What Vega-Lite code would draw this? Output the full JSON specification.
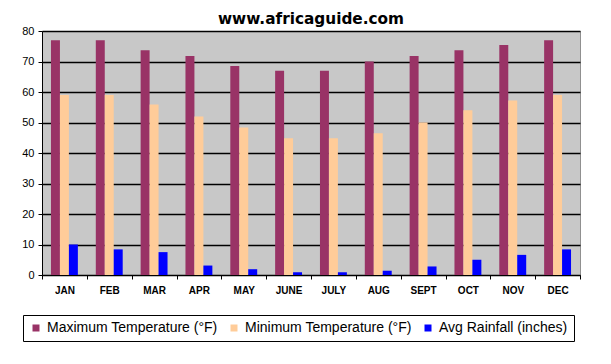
{
  "$schema": "https://vega.github.io/schema/vega-lite/v6.json",
  "width": 538,
  "height": 244,
  "autosize": {"type": "none"},
  "padding": {"left": 42, "top": 31, "right": 31, "bottom": 89},
  "background": "white",
  "title": {
    "text": "www.africaguide.com",
    "font": "DejaVu Sans",
    "fontSize": 15.3,
    "fontWeight": "bold",
    "color": "black",
    "anchor": "middle",
    "offset": -2
  },
  "data": {
    "values": [
      {"month": "JAN", "series": "Maximum Temperature (°F)", "value": 77},
      {"month": "FEB", "series": "Maximum Temperature (°F)", "value": 77},
      {"month": "MAR", "series": "Maximum Temperature (°F)", "value": 73.7},
      {"month": "APR", "series": "Maximum Temperature (°F)", "value": 71.8},
      {"month": "MAY", "series": "Maximum Temperature (°F)", "value": 68.5},
      {"month": "JUNE", "series": "Maximum Temperature (°F)", "value": 67},
      {"month": "JULY", "series": "Maximum Temperature (°F)", "value": 67},
      {"month": "AUG", "series": "Maximum Temperature (°F)", "value": 70},
      {"month": "SEPT", "series": "Maximum Temperature (°F)", "value": 71.8},
      {"month": "OCT", "series": "Maximum Temperature (°F)", "value": 73.7},
      {"month": "NOV", "series": "Maximum Temperature (°F)", "value": 75.4},
      {"month": "DEC", "series": "Maximum Temperature (°F)", "value": 77},
      {"month": "JAN", "series": "Minimum Temperature (°F)", "value": 59},
      {"month": "FEB", "series": "Minimum Temperature (°F)", "value": 59},
      {"month": "MAR", "series": "Minimum Temperature (°F)", "value": 55.9},
      {"month": "APR", "series": "Minimum Temperature (°F)", "value": 52},
      {"month": "MAY", "series": "Minimum Temperature (°F)", "value": 48.4},
      {"month": "JUNE", "series": "Minimum Temperature (°F)", "value": 44.8},
      {"month": "JULY", "series": "Minimum Temperature (°F)", "value": 44.8},
      {"month": "AUG", "series": "Minimum Temperature (°F)", "value": 46.5},
      {"month": "SEPT", "series": "Minimum Temperature (°F)", "value": 50},
      {"month": "OCT", "series": "Minimum Temperature (°F)", "value": 54},
      {"month": "NOV", "series": "Minimum Temperature (°F)", "value": 57.2},
      {"month": "DEC", "series": "Minimum Temperature (°F)", "value": 59},
      {"month": "JAN", "series": "Avg Rainfall (inches)", "value": 10},
      {"month": "FEB", "series": "Avg Rainfall (inches)", "value": 8.4},
      {"month": "MAR", "series": "Avg Rainfall (inches)", "value": 7.5},
      {"month": "APR", "series": "Avg Rainfall (inches)", "value": 3.1},
      {"month": "MAY", "series": "Avg Rainfall (inches)", "value": 1.9},
      {"month": "JUNE", "series": "Avg Rainfall (inches)", "value": 0.9},
      {"month": "JULY", "series": "Avg Rainfall (inches)", "value": 0.9},
      {"month": "AUG", "series": "Avg Rainfall (inches)", "value": 1.4},
      {"month": "SEPT", "series": "Avg Rainfall (inches)", "value": 2.8},
      {"month": "OCT", "series": "Avg Rainfall (inches)", "value": 5},
      {"month": "NOV", "series": "Avg Rainfall (inches)", "value": 6.6},
      {"month": "DEC", "series": "Avg Rainfall (inches)", "value": 8.4}
    ]
  },
  "mark": {"type": "bar"},
  "encoding": {
    "x": {
      "field": "month",
      "type": "nominal",
      "sort": ["JAN","FEB","MAR","APR","MAY","JUNE","JULY","AUG","SEPT","OCT","NOV","DEC"],
      "scale": {"paddingInner": 0, "paddingOuter": 0},
      "axis": {
        "title": null,
        "labelAngle": 0,
        "tickBand": "extent",
        "domainColor": "black",
        "tickColor": "black",
        "tickSize": 4,
        "labelFont": "Liberation Sans",
        "labelFontSize": 10,
        "labelFontWeight": "bold",
        "labelColor": "black",
        "labelPadding": 6,
        "grid": false
      }
    },
    "xOffset": {
      "field": "series",
      "type": "nominal",
      "sort": ["Maximum Temperature (°F)", "Minimum Temperature (°F)", "Avg Rainfall (inches)"],
      "scale": {"paddingInner": 0, "paddingOuter": 1.3}
    },
    "y": {
      "field": "value",
      "type": "quantitative",
      "scale": {"domain": [0, 80], "nice": false},
      "axis": {
        "title": null,
        "values": [0, 10, 20, 30, 40, 50, 60, 70, 80],
        "grid": true,
        "gridColor": "black",
        "gridWidth": 1.5,
        "domainColor": "black",
        "tickColor": "black",
        "tickSize": 4,
        "labelFont": "Liberation Sans",
        "labelFontSize": 11,
        "labelColor": "black",
        "labelPadding": 4
      }
    },
    "color": {
      "field": "series",
      "type": "nominal",
      "sort": ["Maximum Temperature (°F)", "Minimum Temperature (°F)", "Avg Rainfall (inches)"],
      "scale": {"range": ["#993366", "#FFCC99", "#0000FF"]},
      "legend": {
        "title": null,
        "orient": "none",
        "legendX": -19,
        "legendY": 284,
        "direction": "horizontal",
        "symbolType": "square",
        "symbolSize": 49,
        "symbolStrokeWidth": 0,
        "symbolOpacity": 1,
        "labelFont": "Liberation Sans",
        "labelFontSize": 14,
        "labelColor": "black",
        "labelLimit": 400,
        "labelOffset": 4,
        "columnPadding": 9,
        "strokeColor": "black",
        "fillColor": "white",
        "padding": 6
      }
    }
  },
  "config": {
    "view": {"fill": "#C8C8C8", "stroke": "#909090"}
  }
}
